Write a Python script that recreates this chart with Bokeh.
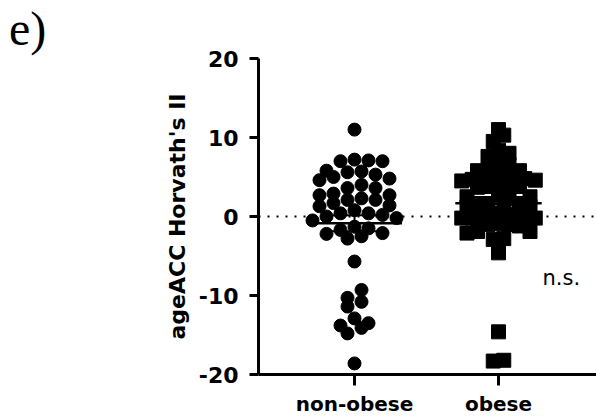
import numpy as np
from bokeh.plotting import figure
from bokeh.layouts import row
from bokeh.models import Range1d, FixedTicker, Span, Label, Div
from bokeh.embed import file_html
from bokeh.resources import INLINE

# ---- data ----
categories = ["non-obese", "obese"]
non_obese = [11.0,
             7.2, 7.1, 7.0, 7.0,
             5.8, 5.7, 5.6,
             5.3, 5.0, 4.8, 4.6,
             4.0, 3.6, 3.6,
             2.9, 2.7, 2.7,
             2.3, 2.1, 2.1, 1.7, 1.4,
             1.3, 0.8, 0.4, 0.4, 0.2, 0.0,
             -0.2, -0.5, -1.3, -1.5, -1.7, -2.1, -2.2, -2.5, -2.8,
             -5.7, -9.3, -10.3, -10.8, -11.4, -12.9, -13.5, -13.8, -14.1, -14.8, -18.6]
obese = [11.0, 10.3, 9.5, 8.4, 8.0, 7.6, 7.2, 6.6,
         5.9, 5.8, 5.7, 5.8, 5.6,
         4.9, 4.6, 4.7, 5.1, 4.8, 4.5,
         3.9, 3.8, 3.7, 4.0, 3.8,
         2.5, 2.4, 2.5, 2.3,
         1.4, 1.2, 1.3, 1.5, 1.5,
         0.5, 0.3, 0.4,
         -0.1, -0.2, -0.2, 0.0, -0.2,
         -1.2, -0.9, -1.0, -1.0,
         -1.9, -2.1, -1.9,
         -2.8, -2.9,
         -4.6,
         -14.6, -18.2, -18.3]
y_ticks = [-20, -10, 0, 10, 20]
y_tick_labels = ["-20", "-10", "0", "10", "20"]
annotation_text = "n.s."
panel_tag = "e)"
y_title = "ageACC Horvath's II"

# ---- layout constants ----
TAG_W = 60
W, H = 596 - TAG_W, 418
LEFT, TOP, RIGHT, BOTTOM = 258 - TAG_W, 58, 0, 43
frame_w = W - LEFT - RIGHT
frame_h = H - TOP - BOTTOM
x0 = 1 - 96 / 144.0
x1 = x0 + frame_w / 144.0
px_per_x = frame_w / (x1 - x0)
px_per_y = frame_h / 40.0


def swarm(vals, step_px, row_px=13.0):
    """Binned scatter: rows one symbol high, points spread side by side."""
    vals = np.asarray(vals, dtype=float)
    bins = np.round(vals * px_per_y / row_px).astype(int)
    offs = np.zeros(len(vals))
    for b in np.unique(bins):
        idx = np.where(bins == b)[0]
        idx = idx[np.argsort(-vals[idx])]
        n = len(idx)
        slots = sorted(range(n), key=lambda s: (abs(s - (n - 1) / 2.0), -s))
        for k, i in enumerate(idx):
            offs[i] = (slots[k] - (n - 1) / 2.0) * step_px / px_per_x
    return offs


p = figure(width=W, height=H, x_range=Range1d(x0, x1), y_range=Range1d(-20, 20),
           output_backend="svg", toolbar_location=None,
           min_border_left=LEFT, min_border_top=TOP, min_border_right=RIGHT,
           min_border_bottom=BOTTOM, margin=(0, 0, 0, 0))
p.outline_line_color = None
p.grid.visible = False
p.background_fill_color = "white"

p.add_layout(Span(location=0, dimension="width", line_color="black",
                  line_width=2, line_dash="2 7"))

groups = [(non_obese, "circle", 13, 0.33, 14.0), (obese, "square", 14, 0.30, 10.5)]
for gi, (vals, marker, size, half, step) in enumerate(groups):
    xc = gi + 1
    offs = swarm(vals, step)
    p.scatter(xc + offs, vals, marker=marker, size=size, color="black")
    arr = np.asarray(vals)
    m = arr.mean()
    sem = arr.std(ddof=1) / np.sqrt(len(arr))
    p.segment(x0=[xc - half], y0=[m], x1=[xc + half], y1=[m], line_color="black", line_width=2.5)
    p.segment(x0=[xc], y0=[m - sem], x1=[xc], y1=[m + sem], line_color="black", line_width=2)
    p.segment(x0=[xc - 0.2, xc - 0.2], y0=[m - sem, m + sem], x1=[xc + 0.2, xc + 0.2],
              y1=[m - sem, m + sem], line_color="black", line_width=2)

# axes
for ax in (p.xaxis[0], p.yaxis[0]):
    ax.axis_line_color = "black"
    ax.axis_line_width = 3
    ax.major_tick_line_color = "black"
    ax.major_tick_line_width = 3
    ax.major_tick_in = 0
    ax.minor_tick_line_color = None
    ax.major_label_text_font = "DejaVu Sans"
    ax.major_label_text_font_style = "bold"
    ax.major_label_text_color = "black"

p.xaxis.ticker = FixedTicker(ticks=[1, 2])
p.xaxis.major_label_overrides = {i + 1: c for i, c in enumerate(categories)}
p.xaxis.major_tick_out = 11
p.xaxis.major_label_standoff = 6
p.xaxis.major_label_text_font_size = "20px"

p.yaxis.ticker = FixedTicker(ticks=y_ticks)
p.yaxis.major_label_overrides = dict(zip(y_ticks, y_tick_labels))
p.yaxis.major_tick_out = 9
p.yaxis.major_label_standoff = 11
p.yaxis.major_label_text_font_size = "22px"
p.yaxis.axis_label = y_title
p.yaxis.axis_label_text_font = "DejaVu Sans"
p.yaxis.axis_label_text_font_style = "bold"
p.yaxis.axis_label_text_font_size = "22px"
p.yaxis.axis_label_text_color = "black"
p.yaxis.axis_label_standoff = 6

p.add_layout(Label(x=x0 + (542 - 258) / px_per_x, y=20 - (278 - 58) / px_per_y,
                   text=annotation_text, text_font="DejaVu Sans", text_font_size="21px",
                   text_color="black", text_baseline="alphabetic"))

tag = Div(text=panel_tag, width=TAG_W, height=60, margin=(0, 0, 0, 0),
          styles={"font-family": "Liberation Serif", "font-size": "48px",
                  "line-height": "48px", "padding-top": "5px", "padding-left": "9px",
                  "color": "black", "white-space": "nowrap"})

layout = row(tag, p, spacing=0)
open("out.html", "w").write(file_html(layout, INLINE))
